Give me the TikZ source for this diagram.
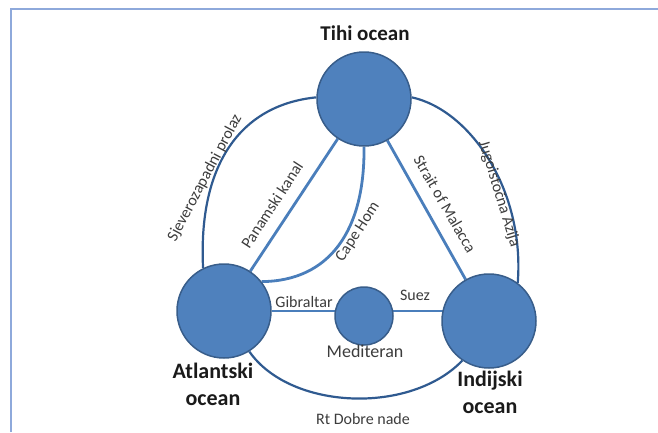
\documentclass[tikz,border=0pt]{standalone}
\usepackage{fontspec}
\setmainfont{Carlito}
\pgfdeclarelayer{bg}
\pgfsetlayers{bg,main}
\definecolor{oceanfill}{HTML}{4F81BD}
\definecolor{oceanedge}{HTML}{385D8A}
\definecolor{linkblue}{HTML}{4A7EBB}
\definecolor{arcblue}{HTML}{2F5A90}
\definecolor{framecol}{HTML}{8EA9DB}
\definecolor{txt}{HTML}{1A1A1A}
\tikzset{
  ocean/.style={circle, fill=oceanfill, draw=oceanedge, line width=1.5pt, inner sep=0pt, minimum size=#1},
  link/.style={draw=linkblue, line width=2.8pt},
  arcl/.style={draw=arcblue, line width=2.2pt},
  bigname/.style={font=\fontsize{22}{27}\selectfont\bfseries, text=txt, align=center, inner sep=0pt},
  smallname/.style={font=\fontsize{16}{19}\selectfont, text=txt!85!white, inner sep=0pt},
}
\begin{document}
\begin{tikzpicture}[x=1pt,y=-1pt]
\useasboundingbox (0,0) rectangle (658,432);
% frame
\draw[framecol, line width=1.5pt] (11,432) -- (11,9) -- (658,9);
% ocean circles
\node[ocean=94pt] (tihi) at (364,99) {};
\node[ocean=94pt] (atl) at (224,311) {};
\node[ocean=94pt] (ind) at (489,321) {};
\node[ocean=58pt] (med) at (364,316) {};
% connectors
\begin{pgfonlayer}{bg}
\draw[link] (atl) -- (tihi);
\draw[link] (tihi) -- (ind);
\draw[link] (atl) -- (atl -| ind);
\draw[link] (tihi.270) .. controls (365,230) and (330,281) .. (atl.38);
\draw[arcl] (atl.116) .. controls (198,165) and (240,105) .. (tihi.178);
\draw[arcl] (tihi.2) .. controls (470,110) and (525,190) .. (ind.53);
\draw[arcl] (atl.302) .. controls (290,410) and (410,415) .. (ind.236);
\end{pgfonlayer}
% labels
\node[bigname, font=\fontsize{21}{25}\selectfont\bfseries] (tihil) at (365,33) {Tihi ocean};
\node[bigname] (atll) at (213,384) {Atlantski\\ocean};
\node[bigname] (indl) at (490,392) {Indijski\\ocean};
\node[smallname, font=\fontsize{18}{21}\selectfont] (medl) at (365,351) {Mediteran};
\node[smallname] (gib) at (304,302) {Gibraltar};
\node[smallname] (suez) at (415,295) {Suez};
\node[smallname] (rt) at (363,419) {Rt Dobre nade};
\node[smallname, rotate=62] (sjz) at (205,178) {Sjeverozapadni prolaz};
\node[smallname, rotate=57] (pan) at (272,205) {Panamski kanal};
\node[smallname, rotate=57] (cape) at (358,232) {Cape Hom};
\node[smallname, rotate=-60] (mal) at (445,204) {Strait of Malacca};
\node[smallname, rotate=-73] (jug) at (499,194) {Jugoistočna Azija};
\end{tikzpicture}
\end{document}
